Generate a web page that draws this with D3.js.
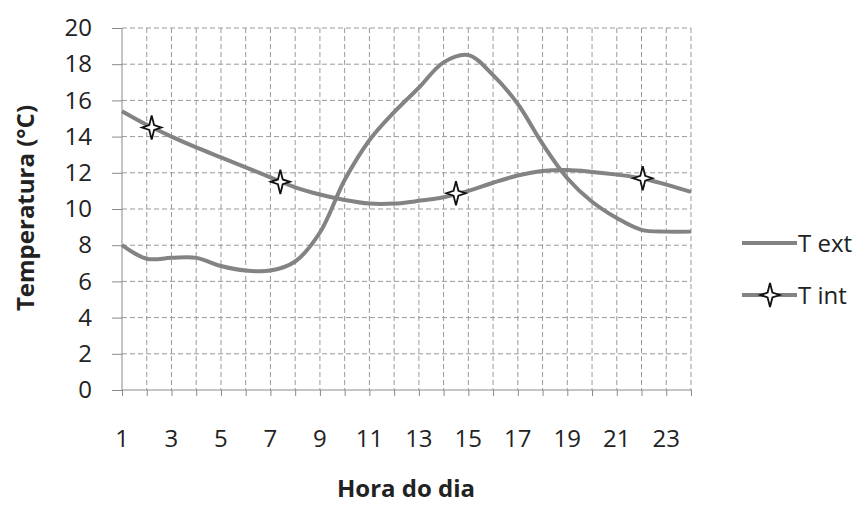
<!DOCTYPE html>
<html>
<head>
<meta charset="utf-8">
<script src="https://cdn.jsdelivr.net/npm/d3@7"></script>
<style>
  html, body { margin: 0; padding: 0; background: #fff; }
  svg { display: block; }
  text { font-family: "Open Sans", "Noto Sans", sans-serif; fill: #222; }
</style>
</head>
<body>
<svg id="chart" width="865" height="505"></svg>
<script>
// Hours of the day (x categories)
const hours = d3.range(1, 25);
const hourTickLabels = [1, 3, 5, 7, 9, 11, 13, 15, 17, 19, 21, 23];
const tempTicks = [0, 2, 4, 6, 8, 10, 12, 14, 16, 18, 20];

// Outside temperature (°C), one value per hour
const tExt = [8.0, 7.25, 7.3, 7.3, 6.85, 6.6, 6.6, 7.1, 8.7, 11.6, 13.8, 15.35,
              16.7, 18.1, 18.5, 17.4, 15.8, 13.6, 11.7, 10.4, 9.5, 8.85, 8.75, 8.75];

// Inside temperature (°C), one value per hour
const tInt = [15.4, 14.65, 14.0, 13.4, 12.85, 12.3, 11.75, 11.2, 10.8, 10.5, 10.3, 10.3,
              10.45, 10.65, 11.0, 11.45, 11.85, 12.1, 12.15, 12.05, 11.9, 11.7, 11.35, 10.95];

// Marked readings on the inside-temperature curve
const tIntMarkHours = [2.2, 7.4, 14.5, 22.05];
const tIntMarkValues = [14.5, 11.5, 10.87, 11.7];

const seriesNames = ["T ext", "T int"];

const svg = d3.select("#chart");
const plotLeft = 122, plotRight = 691, plotTop = 28, plotBottom = 390;

const x = d3.scaleLinear().domain([1, 24]).range([plotLeft, plotRight]);
const y = d3.scaleLinear().domain([0, 20]).range([plotBottom, plotTop]);

const gridColor = "#9a9a9a";
const axisColor = "#8a8a8a";
const lineColor = "#838383";

// Dashed gridlines
const grid = svg.append("g");
grid.selectAll("line.h")
  .data(tempTicks.filter(d => d > 0))
  .join("line")
  .attr("class", "h")
  .attr("x1", plotLeft).attr("x2", plotRight)
  .attr("y1", d => y(d)).attr("y2", d => y(d))
  .attr("stroke", gridColor).attr("stroke-width", 1)
  .attr("stroke-dasharray", "5,3");
grid.selectAll("line.v")
  .data(hours.filter(d => d > 1))
  .join("line")
  .attr("class", "v")
  .attr("x1", d => x(d)).attr("x2", d => x(d))
  .attr("y1", plotTop).attr("y2", plotBottom)
  .attr("stroke", gridColor).attr("stroke-width", 1)
  .attr("stroke-dasharray", "5,3");

// Y axis
const yAxis = d3.axisLeft(y).tickValues(tempTicks).tickSize(10).tickPadding(20);
const gy = svg.append("g").attr("transform", `translate(${plotLeft},0)`).call(yAxis);
gy.select(".domain").attr("stroke", axisColor).attr("d", `M0,${plotTop}V${plotBottom}`);
gy.selectAll(".tick line").attr("stroke", axisColor);
gy.selectAll(".tick text")
  .style("font-family", '"Open Sans", sans-serif')
  .style("font-size", "24px").attr("fill", "#222");

// X axis
const xAxis = d3.axisBottom(x).tickValues(hours).tickSize(6).tickFormat("");
const gx = svg.append("g").attr("transform", `translate(0,${plotBottom})`).call(xAxis);
gx.select(".domain").attr("stroke", axisColor).attr("d", `M${plotLeft},0H${plotRight}`);
gx.selectAll(".tick line").attr("stroke", axisColor);

svg.append("g").selectAll("text")
  .data(hourTickLabels)
  .join("text")
  .attr("x", d => x(d)).attr("y", 447)
  .attr("text-anchor", "middle")
  .style("font-size", "24px")
  .text(d => d);

// Axis titles
svg.append("text")
  .attr("transform", "translate(34,208) rotate(-90)")
  .attr("text-anchor", "middle")
  .style("font-size", "24px").style("font-weight", "bold")
  .text("Temperatura (°C)");
svg.append("text")
  .attr("x", 406).attr("y", 497)
  .attr("text-anchor", "middle")
  .style("font-size", "24px").style("font-weight", "bold")
  .text("Hora do dia");

// Smoothed series lines
const line = d3.line()
  .x((d, i) => x(hours[i]))
  .y(d => y(d))
  .curve(d3.curveCatmullRom.alpha(0.5));

svg.append("path").datum(tExt)
  .attr("d", line).attr("fill", "none")
  .attr("stroke", lineColor).attr("stroke-width", 4).attr("stroke-linejoin", "round");
svg.append("path").datum(tInt)
  .attr("d", line).attr("fill", "none")
  .attr("stroke", lineColor).attr("stroke-width", 4).attr("stroke-linejoin", "round");

// Four-pointed star marker
const star4 = {
  draw(ctx, size) {
    const ry = Math.sqrt(size) * 0.62, rx = ry * 0.8, k = ry * 0.2;
    ctx.moveTo(0, -ry);
    ctx.lineTo(k, -k);
    ctx.lineTo(rx, 0);
    ctx.lineTo(k, k);
    ctx.lineTo(0, ry);
    ctx.lineTo(-k, k);
    ctx.lineTo(-rx, 0);
    ctx.lineTo(-k, -k);
    ctx.closePath();
  }
};
const starPath = d3.symbol().type(star4).size(380);

svg.append("g").selectAll("path")
  .data(tIntMarkHours.map((h, i) => ({ h, v: tIntMarkValues[i] })))
  .join("path")
  .attr("transform", d => `translate(${x(d.h)},${y(d.v)})`)
  .attr("d", starPath)
  .attr("fill", "#fff").attr("stroke", "#111").attr("stroke-width", 1.8)
  .attr("stroke-linejoin", "miter");

// Legend
const legend = svg.append("g");
const legendY = [243, 295];
seriesNames.forEach((name, i) => {
  legend.append("line")
    .attr("x1", 742).attr("x2", 797)
    .attr("y1", legendY[i]).attr("y2", legendY[i])
    .attr("stroke", lineColor).attr("stroke-width", 4);
  if (i === 1) {
    legend.append("path")
      .attr("transform", `translate(770,${legendY[i]})`)
      .attr("d", starPath)
      .attr("fill", "#fff").attr("stroke", "#111").attr("stroke-width", 1.8);
  }
  legend.append("text")
    .attr("x", 798).attr("y", legendY[i] + 9)
    .style("font-size", "24px")
    .text(name);
});
</script>
</body>
</html>
